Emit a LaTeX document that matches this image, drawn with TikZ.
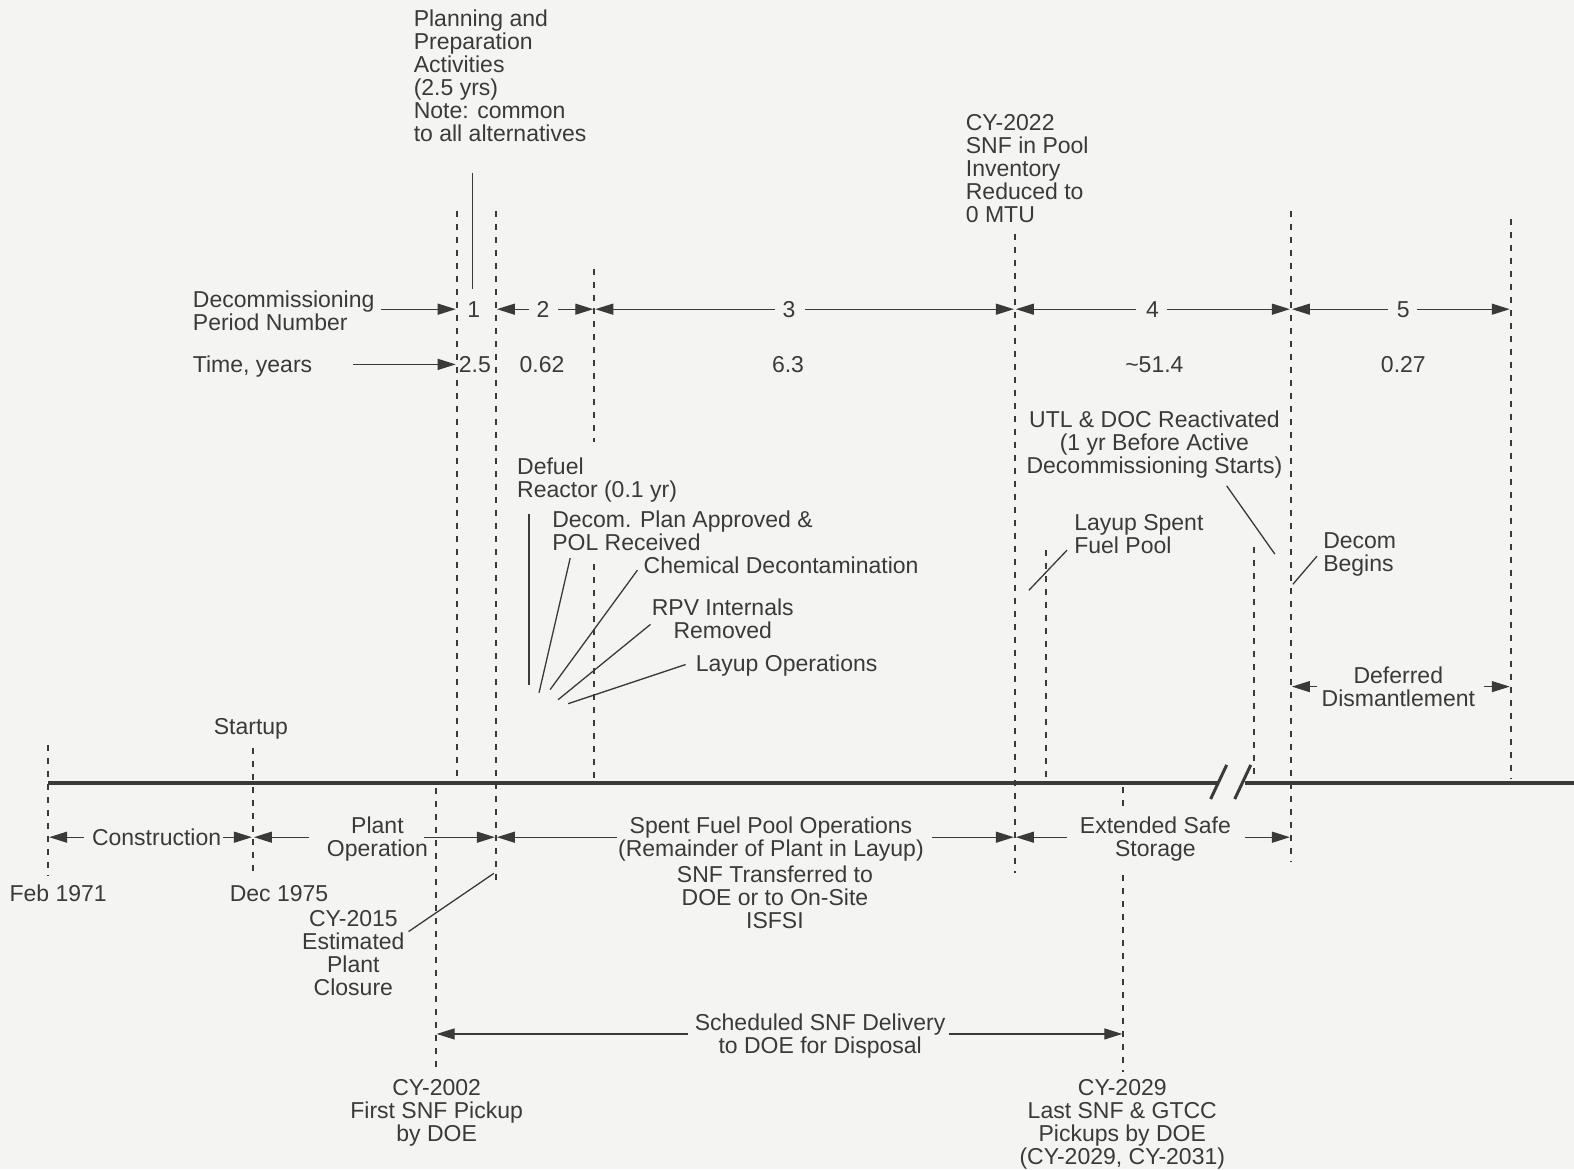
\documentclass[tikz,border=0pt]{standalone}
\usepackage{fontspec}
\setmainfont{Liberation Sans}
\usetikzlibrary{arrows.meta}
\definecolor{ink}{HTML}{3A3A3A}
\definecolor{bg}{HTML}{F4F4F2}
\begin{document}
\begin{tikzpicture}[x=1.0038pt,y=-1.0038pt,
  font=\fontsize{23}{23}\selectfont,
  every node/.style={text=ink, inner sep=0pt},
  txt/.style={anchor=base, align=center},
  txtl/.style={anchor=base west, align=left},
  dashv/.style={draw=ink, line width=2.2pt, dash pattern=on 6pt off 7pt},
  lead/.style={draw=ink, line width=1.3pt},
  tip/.style={draw=ink, line width=1.3pt, -{Triangle[length=18pt,width=11pt]}},
  axis/.style={draw=ink, line width=3.5pt}
]
\fill[bg] (0,0) rectangle (1568,1165);
\useasboundingbox (0,0) rectangle (1568,1165);

% ---------- main time line ----------
\coordinate (tl0) at (48,780);
\coordinate (brkL) at (1214,780);
\coordinate (brkR) at (1240,780);
\coordinate (tlE) at (1568,780);
\draw[axis] (tl0) -- (brkL);
\draw[axis] (brkR) -- (tlE);
\draw[draw=ink, line width=3pt] (1206,796) -- (1222,762);
\draw[draw=ink, line width=3pt] (1230,796) -- (1246,762);

% ---------- vertical dashed lines ----------
\draw[dashv] (48,742) -- (48,872);
\draw[dashv] (252,745) -- (252,873);
\draw[dashv] (434,785) -- (434,1068);
\draw[dashv] (455,210) -- (455,775);
\draw[dashv] (494,210) -- (494,880);
\draw[dashv] (592,268) -- (592,440);
\draw[dashv] (592,562) -- (592,775);
\draw[dashv] (1011,233) -- (1011,870);
\draw[dashv] (1042,548) -- (1042,776);
\draw[dashv] (1249,545) -- (1249,773);
\draw[dashv] (1286,210) -- (1286,858);
\draw[dashv] (1505,218) -- (1505,776);
\draw[dashv] (1119,784) -- (1119,806);
\draw[dashv] (1119,872) -- (1119,1068);

% ---------- texts (base = baseline of last line) ----------
\node[txtl] (plan) at (412,141) {Planning and\\Preparation\\Activities\\(2.5 yrs)\\Note: common\\to all alternatives};
\node[txtl] (cy22) at (962,222) {CY-2022\\SNF in Pool\\Inventory\\Reduced to\\0 MTU};
\node[txtl] (dpn) at (192,329) {Decommissioning\\Period Number};
\node[txtl] (ty) at (192,371) {Time, years};
\node[txt] (n1) at (472,316) {1};
\node[txt] (n2) at (541,316) {2};
\node[txt] (n3) at (786,316) {3};
\node[txt] (n4) at (1148,316) {4};
\node[txt] (n5) at (1398,316) {5};
\node[txt] (t1) at (473,371) {2.5};
\node[txt] (t2) at (540,371) {0.62};
\node[txt] (t3) at (785,371) {6.3};
\node[txt] (t4) at (1150,371) {\textasciitilde51.4};
\node[txt] (t5) at (1398,371) {0.27};
\node[txt] (utl) at (1150,472) {UTL \& DOC Reactivated\\(1 yr Before Active\\Decommissioning Starts)};
\node[txtl] (defuel) at (515,496) {Defuel\\Reactor (0.1 yr)};
\node[txtl] (dplan) at (550,548) {Decom. Plan Approved \&\\POL Received};
\node[txtl] (chem) at (641,571) {Chemical Decontamination};
\node[txt] (rpv) at (720,636) {RPV Internals\\Removed};
\node[txtl] (layup) at (693,669) {Layup Operations};
\node[txtl] (lsfp) at (1070,551) {Layup Spent\\Fuel Pool};
\node[txtl] (dbeg) at (1318,569) {Decom\\Begins};
\node[txt] (defd) at (1393,704) {Deferred\\Dismantlement};
\node[txt] (startup) at (250,732) {Startup};
\node[txt] (feb) at (58,898) {Feb 1971};
\node[txt] (dec) at (278,898) {Dec 1975};
\node[txt] (constr) at (156,842) {Construction};
\node[txt] (plop) at (376,853) {Plant\\Operation};
\node[txt] (sfpo) at (768,853) {Spent Fuel Pool Operations\\(Remainder of Plant in Layup)};
\node[txt] (ess) at (1151,853) {Extended Safe\\Storage};
\node[txt] (snft) at (772,925) {SNF Transferred to\\DOE or to On-Site\\ISFSI};
\node[txt] (cy15) at (352,992) {CY-2015\\Estimated\\Plant\\Closure};
\node[txt] (sched) at (817,1049) {Scheduled SNF Delivery\\to DOE for Disposal};
\node[txt] (cy02) at (435,1137) {CY-2002\\First SNF Pickup\\by DOE};
\node[txt] (cy29) at (1118,1160) {CY-2029\\Last SNF \& GTCC\\Pickups by DOE\\(CY-2029, CY-2031)};

% ---------- leader lines ----------
\draw[lead] (471,172) -- (471,288);
\draw[lead] (527,512) -- (527,682);
\draw[lead] (537,690) -- (568,556);
\draw[lead] (548,687) -- (635,568);
\draw[lead] (556,697) -- (648,622);
\draw[lead] (566,701) -- (683,662);
\draw[lead] (1025,588) -- (1063,548);
\draw[lead] (1222,484) -- (1270,552);
\draw[lead] (1288,582) -- (1312,554);
\draw[lead] (407,928) -- (492,870);

% ---------- dimension arrows, top ----------
\draw[tip] (380,308) -- (454,308);
\draw[tip] (352,363) -- (454,363);
\draw[tip] (527,308) -- (495,308);
\draw[tip] (556,308) -- (591,308);
\draw[tip] (772,308) -- (593,308);
\draw[tip] (802,308) -- (1010,308);
\draw[tip] (1132,308) -- (1012,308);
\draw[tip] (1163,308) -- (1285,308);
\draw[tip] (1383,308) -- (1287,308);
\draw[tip] (1412,308) -- (1504,308);
\draw[tip] (1312,684) -- (1287,684);
\draw[tip] (1478,684) -- (1504,684);

% ---------- dimension arrows, bottom ----------
\draw[tip] (84,834) -- (49,834);
\draw[tip] (222,834) -- (251,834);
\draw[tip] (308,834) -- (253,834);
\draw[tip] (422,834) -- (493,834);
\draw[tip] (615,834) -- (495,834);
\draw[tip] (928,834) -- (1010,834);
\draw[tip] (1063,834) -- (1012,834);
\draw[tip] (1240,834) -- (1285,834);
\draw[tip] (685,1030) -- (435,1030);
\draw[tip] (945,1030) -- (1118,1030);
\end{tikzpicture}
\end{document}
